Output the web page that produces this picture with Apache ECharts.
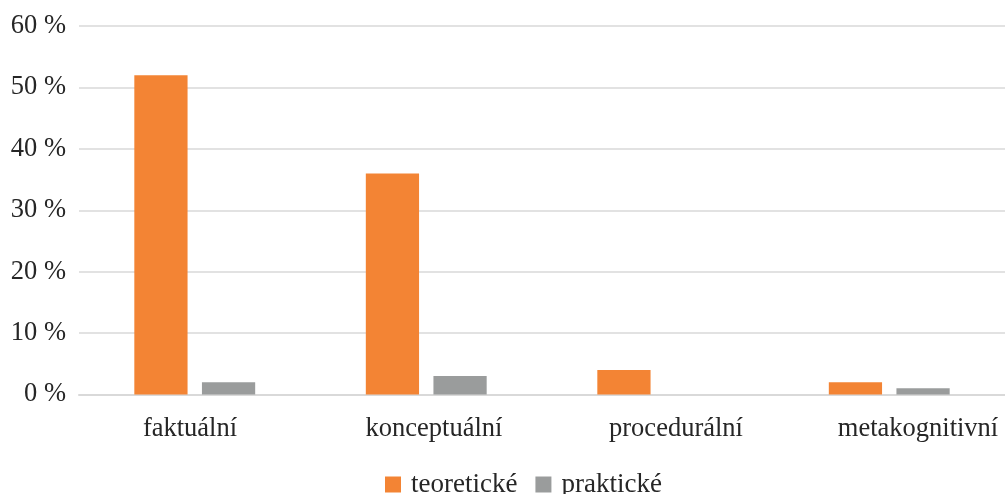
<!DOCTYPE html>
<html>
<head>
<meta charset="utf-8">
<script src="https://cdn.jsdelivr.net/npm/echarts@6/dist/echarts.min.js"></script>
<style>
  html, body { margin: 0; padding: 0; background: #fff; }
  #chart { width: 1005px; height: 494px; }
</style>
</head>
<body>
<div id="chart"></div>
<script>
const categories = ['faktuální', 'konceptuální', 'procedurální', 'metakognitivní']
const teoreticke = [52, 36, 4, 2]
const prakticke = [2, 3, 0, 1]
const yTicks = { min: 0, max: 60, interval: 10 }

const font = 'Liberation Serif'
const chart = echarts.init(document.getElementById('chart'))

// v předloze jsou popisky kategorií rozestavěné o něco šířeji než sloupce,
// proto každému popisku dáme vlastní odsazení (padding posune střed o polovinu)
const labelStyle = { fontFamily: font, fontSize: 26.5, color: '#262626' }
const labelRich = {
  c0: { ...labelStyle, padding: [0, 9.5, 0, 0] },
  c1: { ...labelStyle, padding: [0, 0, 0, 15.5] },
  c2: { ...labelStyle, padding: [0, 0, 0, 36.5] },
  c3: { ...labelStyle, padding: [0, 0, 0, 57.5] }
}

chart.setOption({
  animation: false,
  textStyle: { fontFamily: font },
  grid: { left: 79, right: 0, top: 26, bottom: 99.5 },
  legend: {
    bottom: -9,
    left: 380,
    itemWidth: 16,
    itemHeight: 16,
    itemGap: 18,
    icon: 'rect',
    textStyle: { fontFamily: font, fontSize: 27, color: '#262626', padding: [0, 0, 0, 5] },
    data: ['teoretické', 'praktické']
  },
  xAxis: {
    type: 'category',
    data: categories,
    axisTick: { show: false },
    axisLine: { lineStyle: { color: '#d9d9d9', width: 2 } },
    axisLabel: {
      ...labelStyle,
      margin: 21,
      hideOverlap: false,
      interval: 0,
      formatter: (v, i) => `{c${i}|${v}}`,
      rich: labelRich
    }
  },
  yAxis: {
    type: 'value',
    min: yTicks.min,
    max: yTicks.max,
    interval: yTicks.interval,
    axisLabel: {
      fontFamily: font,
      fontSize: 26.5,
      color: '#262626',
      margin: 13,
      formatter: v => v + ' %'
    },
    splitLine: { lineStyle: { color: '#d9d9d9', width: 1.5 } }
  },
  series: [
    {
      name: 'teoretické',
      type: 'bar',
      data: teoreticke,
      barWidth: '23%',
      barGap: '27%',
      itemStyle: { color: '#F38434' }
    },
    {
      name: 'praktické',
      type: 'bar',
      data: prakticke,
      barWidth: '23%',
      itemStyle: { color: '#9A9C9C' }
    }
  ]
})
</script>
</body>
</html>
